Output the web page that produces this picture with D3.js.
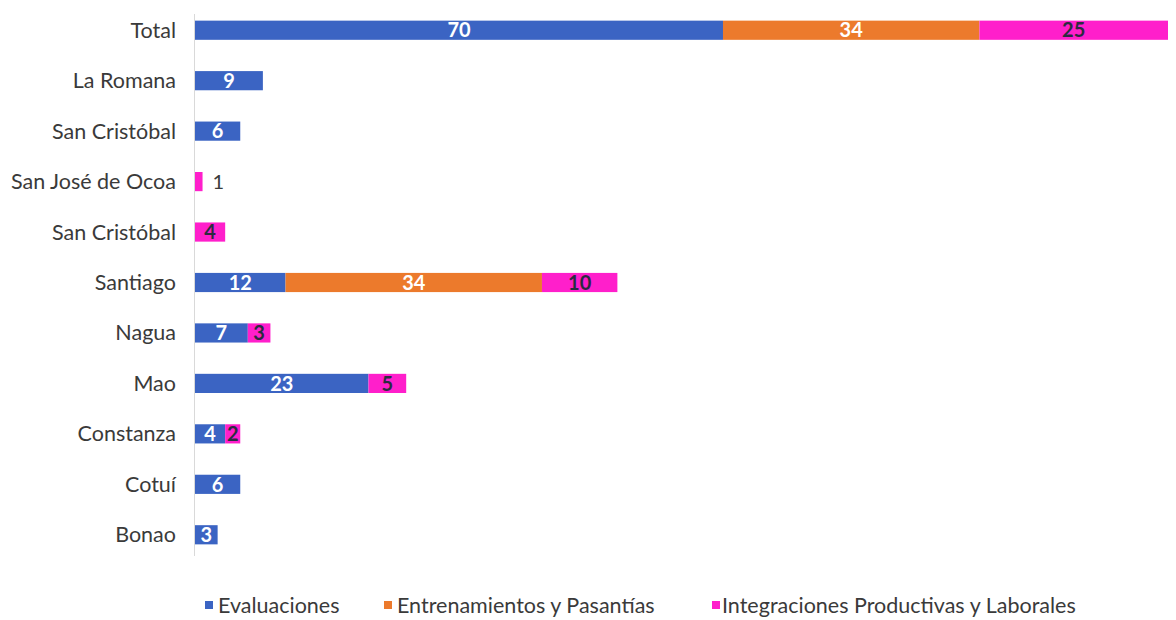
<!DOCTYPE html>
<html><head><meta charset="utf-8">
<script src="https://cdn.jsdelivr.net/npm/d3@7"></script>
<style>
body{margin:0;background:#fff;}
svg{display:block;}
</style></head>
<body>
<svg id="chart" width="1176" height="620"></svg>
<script>
const categories = ["Total","La Romana","San Cristóbal","San José de Ocoa","San Cristóbal ","Santiago","Nagua","Mao","Constanza","Cotuí","Bonao"];
const evaluaciones = [70,9,6,0,0,12,7,23,4,6,3];
const entrenamientos = [34,0,0,0,0,34,0,0,0,0,0];
const integraciones = [25,0,0,1,4,10,3,5,2,0,0];
const seriesNames = ["Evaluaciones","Entrenamientos y Pasantías","Integraciones Productivas y Laborales"];
const seriesColors = ["#3B64C3","#EC7A2C","#FF1FCB"];
const labelColors = ["#ffffff","#ffffff","#2b2b40"];

const svg = d3.select("#chart");
const left = 195;
const x = d3.scaleLinear().domain([0,129]).range([left,1168]);
const y = d3.scaleBand().domain(categories).range([5,560]).paddingInner(0.62).paddingOuter(0.31);

const rows = categories.map((c,i)=>({cat:c, vals:[evaluaciones[i],entrenamientos[i],integraciones[i]]}));
const stack = d3.stack().keys([0,1,2]).value((d,k)=>d.vals[k]);
const stacked = stack(rows);

// axis line
svg.append("line").attr("x1",left-0.5).attr("x2",left-0.5).attr("y1",14).attr("y2",556)
  .attr("stroke","#d9d9d9").attr("stroke-width",1);

// category labels
svg.append("g").selectAll("text").data(categories).join("text")
  .attr("x",176).attr("y",d=>y(d)+y.bandwidth()/2).attr("dy","0.35em")
  .attr("text-anchor","end").attr("font-family","Lato, 'Open Sans', sans-serif")
  .attr("font-size",21.5).attr("fill","#3a3a3a").text(d=>d.trim());

stacked.forEach((layer,k)=>{
  const g = svg.append("g");
  g.selectAll("rect").data(layer).join("rect")
    .attr("x",d=>x(d[0])).attr("width",d=>x(d[1])-x(d[0]))
    .attr("y",d=>y(d.data.cat)).attr("height",y.bandwidth())
    .attr("fill",seriesColors[k]);
  g.selectAll("text").data(layer.filter(d=>d[1]-d[0]>0)).join("text")
    .attr("x",d=> (d[1]-d[0])<2 ? x(d[1])+10 : (x(d[0])+x(d[1]))/2)
    .attr("y",d=>y(d.data.cat)+y.bandwidth()/2).attr("dy","0.36em")
    .attr("text-anchor",d=>(d[1]-d[0])<2?"start":"middle")
    .attr("font-family","Lato, 'Open Sans', sans-serif")
    .attr("font-size",20)
    .attr("font-weight",d=>(d[1]-d[0])<2?"normal":"bold")
    .attr("fill",d=>(d[1]-d[0])<2?"#3a3a3a":labelColors[k])
    .text(d=>d[1]-d[0]);
});

// legend
const legendX = [205,384,712];
const lg = svg.append("g");
seriesNames.forEach((n,i)=>{
  lg.append("rect").attr("x",legendX[i]).attr("y",601).attr("width",8).attr("height",8).attr("fill",seriesColors[i]);
  lg.append("text").attr("x",legendX[i]+(i===2?10:13)).attr("y",605).attr("dy","0.35em")
    .attr("font-family","Lato, 'Open Sans', sans-serif").attr("font-size",21.5)
    .attr("fill","#3a3a3a").text(n);
});
</script>
</body></html>
